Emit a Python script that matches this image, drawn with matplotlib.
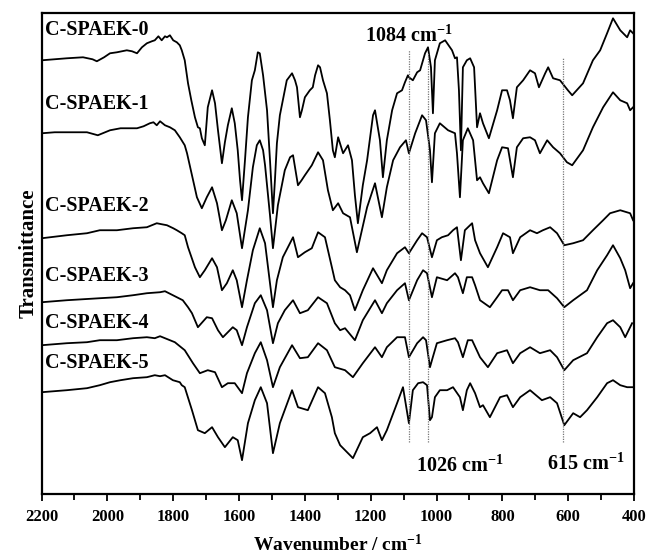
import numpy as np
import matplotlib
matplotlib.use("Agg")
import matplotlib.pyplot as plt

plt.rcParams['font.family'] = ['Liberation Serif', 'DejaVu Serif']
plt.rcParams['font.weight'] = 'bold'
plt.rcParams['mathtext.fontset'] = 'custom'
plt.rcParams['mathtext.rm'] = 'Liberation Serif:bold'
plt.rcParams['mathtext.it'] = 'Liberation Serif:bold'
plt.rcParams['mathtext.bf'] = 'Liberation Serif:bold'

# (wavenumber / cm-1, transmittance in arbitrary offset units)
spaek0 = [(2199, 434), (2160, 435), (2123, 436), (2074, 437), (2045, 435), (2032, 433), (2010, 437),
          (1992, 441), (1971, 442), (1941, 444), (1925, 443), (1910, 441), (1895, 447), (1880, 451),
          (1865, 453), (1856, 454), (1845, 458), (1835, 454), (1825, 458), (1819, 457), (1810, 459),
          (1800, 454), (1789, 452), (1780, 449), (1774, 444), (1765, 434), (1755, 411), (1745, 394),
          (1734, 377), (1725, 367), (1719, 366), (1713, 356), (1704, 349), (1695, 387), (1682, 404),
          (1673, 391), (1664, 364), (1652, 331), (1643, 352), (1634, 369), (1622, 386), (1613, 371),
          (1604, 344), (1597, 314), (1591, 294), (1582, 334), (1573, 377), (1561, 414), (1552, 424),
          (1543, 442), (1537, 441), (1527, 419), (1515, 384), (1506, 334), (1497, 281), (1491, 314),
          (1485, 351), (1476, 379), (1467, 394), (1455, 414), (1439, 421), (1430, 414), (1424, 407),
          (1415, 377), (1409, 384), (1400, 397), (1385, 404), (1376, 407), (1369, 419), (1360, 429),
          (1354, 427), (1345, 414), (1333, 401), (1324, 374), (1315, 344), (1309, 337), (1299, 357),
          (1284, 341), (1269, 349), (1257, 334), (1248, 299), (1239, 271), (1224, 309), (1211, 334),
          (1193, 379), (1187, 384), (1172, 354), (1163, 317), (1151, 354), (1135, 384), (1120, 401),
          (1105, 404), (1096, 412), (1087, 419), (1084, 417), (1072, 414), (1059, 422), (1050, 424),
          (1035, 441), (1026, 447), (1017, 427), (1011, 381), (1005, 434), (990, 451), (974, 454),
          (953, 444), (944, 436), (938, 437), (932, 404), (926, 344), (920, 427), (908, 434),
          (898, 436), (886, 427), (877, 367), (868, 381), (859, 371), (841, 356), (816, 384),
          (801, 404), (786, 404), (777, 394), (768, 376), (756, 407), (737, 414), (716, 424),
          (701, 421), (689, 407), (670, 421), (661, 427), (646, 416), (625, 414), (601, 404),
          (588, 399), (555, 411), (525, 434), (503, 444), (482, 461), (464, 476), (442, 464),
          (421, 457), (412, 464), (403, 461)]

spaek1 = [(2199, 361), (2160, 362), (2123, 362), (2062, 362), (2029, 359), (1992, 364), (1960, 366),
          (1941, 366), (1910, 366), (1890, 368), (1871, 371), (1860, 372), (1850, 369), (1840, 373),
          (1825, 369), (1810, 367), (1795, 364), (1780, 357), (1765, 349), (1758, 341), (1743, 319),
          (1728, 297), (1713, 286), (1698, 297), (1682, 307), (1667, 291), (1652, 264), (1640, 274),
          (1622, 294), (1607, 281), (1591, 246), (1573, 284), (1558, 327), (1546, 349), (1537, 354),
          (1527, 344), (1521, 329), (1506, 279), (1497, 246), (1482, 289), (1461, 324), (1445, 337),
          (1436, 339), (1421, 309), (1410, 314), (1400, 319), (1379, 329), (1360, 342), (1345, 334),
          (1330, 304), (1315, 284), (1299, 291), (1284, 281), (1263, 277), (1242, 242), (1211, 287),
          (1187, 311), (1166, 277), (1151, 307), (1132, 334), (1111, 347), (1093, 354), (1084, 341),
          (1065, 361), (1044, 379), (1032, 374), (1020, 344), (1014, 312), (1005, 361), (990, 371),
          (965, 364), (944, 361), (938, 341), (929, 297), (920, 354), (905, 366), (889, 354),
          (877, 314), (868, 317), (859, 311), (841, 301), (816, 334), (801, 347), (783, 346),
          (768, 317), (756, 347), (737, 356), (716, 357), (701, 354), (686, 341), (664, 354),
          (646, 347), (625, 341), (604, 332), (588, 329), (555, 344), (525, 367), (494, 387),
          (464, 402), (442, 394), (421, 391), (412, 384), (403, 387)]

spaek2 = [(2199, 256), (2123, 259), (2062, 261), (2023, 264), (1971, 264), (1922, 266), (1880, 267),
          (1850, 271), (1835, 270), (1819, 269), (1800, 266), (1789, 264), (1774, 261), (1765, 259),
          (1755, 247), (1734, 227), (1719, 217), (1704, 224), (1682, 236), (1667, 227), (1652, 204),
          (1637, 211), (1619, 224), (1607, 214), (1591, 187), (1576, 214), (1558, 244), (1537, 266),
          (1521, 251), (1506, 211), (1497, 187), (1485, 214), (1467, 237), (1436, 257), (1421, 237),
          (1400, 242), (1379, 246), (1360, 262), (1339, 257), (1318, 227), (1309, 214), (1293, 207),
          (1278, 204), (1263, 199), (1248, 184), (1224, 204), (1193, 226), (1166, 211), (1151, 224),
          (1120, 241), (1096, 247), (1084, 241), (1059, 254), (1044, 261), (1029, 257), (1014, 237),
          (999, 254), (984, 257), (965, 259), (950, 264), (938, 267), (926, 234), (914, 264),
          (892, 271), (883, 254), (868, 241), (844, 227), (816, 247), (798, 261), (777, 257),
          (768, 241), (746, 257), (716, 264), (695, 261), (677, 264), (655, 267), (634, 261),
          (612, 249), (585, 251), (555, 254), (525, 264), (494, 274), (473, 281), (442, 284),
          (412, 281), (403, 274)]

spaek3 = [(2199, 192), (2123, 194), (2023, 196), (1971, 197), (1922, 199), (1880, 201), (1840, 202),
          (1825, 203), (1801, 199), (1789, 197), (1771, 194), (1755, 187), (1743, 181), (1725, 167),
          (1698, 177), (1682, 176), (1664, 164), (1649, 157), (1619, 167), (1607, 164), (1591, 149),
          (1576, 167), (1552, 191), (1534, 199), (1515, 184), (1497, 151), (1482, 171), (1461, 184),
          (1436, 194), (1415, 181), (1391, 184), (1360, 197), (1333, 191), (1309, 171), (1293, 164),
          (1278, 166), (1248, 154), (1224, 174), (1187, 194), (1166, 181), (1151, 191), (1120, 204),
          (1096, 211), (1084, 194), (1059, 214), (1041, 224), (1029, 221), (1014, 197), (999, 217),
          (968, 214), (944, 221), (935, 217), (920, 201), (908, 217), (892, 217), (883, 209),
          (868, 194), (838, 187), (816, 197), (801, 204), (783, 204), (768, 194), (746, 204),
          (716, 207), (686, 204), (661, 204), (634, 196), (612, 187), (585, 194), (543, 204),
          (512, 224), (482, 239), (464, 249), (442, 236), (427, 224), (412, 206), (403, 211)]

spaek4 = [(2199, 149), (2123, 151), (2062, 152), (2023, 154), (1971, 154), (1922, 156), (1880, 157),
          (1856, 156), (1840, 158), (1810, 154), (1795, 152), (1765, 144), (1740, 131), (1719, 121),
          (1695, 124), (1673, 122), (1652, 107), (1634, 111), (1613, 111), (1591, 101), (1576, 121),
          (1552, 141), (1534, 152), (1515, 134), (1497, 107), (1476, 127), (1439, 149), (1415, 136),
          (1391, 137), (1360, 151), (1333, 144), (1309, 127), (1278, 124), (1254, 117), (1224, 131),
          (1187, 147), (1166, 137), (1151, 147), (1120, 157), (1096, 157), (1084, 137), (1059, 151),
          (1041, 157), (1032, 154), (1020, 127), (1014, 134), (999, 151), (968, 154), (944, 156),
          (935, 152), (920, 137), (905, 154), (892, 154), (868, 137), (844, 127), (816, 141),
          (786, 144), (768, 131), (746, 141), (716, 147), (686, 141), (655, 144), (634, 137),
          (612, 124), (585, 134), (543, 141), (512, 157), (482, 171), (464, 174), (442, 167),
          (427, 157), (406, 171)]

spaek5 = [(2199, 102), (2123, 104), (2062, 106), (2023, 109), (1992, 112), (1960, 114), (1922, 116),
          (1880, 117), (1856, 119), (1840, 118), (1825, 119), (1801, 114), (1780, 112), (1774, 109),
          (1765, 107), (1743, 84), (1725, 64), (1704, 61), (1682, 67), (1664, 57), (1643, 47),
          (1619, 57), (1604, 54), (1591, 34), (1573, 71), (1552, 94), (1534, 107), (1515, 91),
          (1497, 41), (1476, 71), (1439, 104), (1421, 87), (1391, 84), (1360, 107), (1339, 101),
          (1318, 77), (1309, 61), (1293, 49), (1254, 36), (1224, 57), (1202, 61), (1181, 67),
          (1166, 54), (1151, 64), (1120, 91), (1102, 107), (1084, 71), (1072, 104), (1056, 111),
          (1041, 112), (1029, 109), (1020, 74), (1014, 77), (1005, 97), (990, 104), (968, 104),
          (950, 107), (929, 97), (920, 84), (908, 104), (898, 111), (883, 101), (868, 87),
          (859, 89), (838, 77), (807, 97), (786, 99), (768, 87), (746, 97), (716, 104),
          (680, 94), (655, 97), (634, 91), (612, 69), (585, 81), (564, 77), (543, 84),
          (512, 97), (482, 111), (464, 114), (442, 109), (421, 107), (403, 107)]

samples = ['C-SPAEK-0', 'C-SPAEK-1', 'C-SPAEK-2', 'C-SPAEK-3', 'C-SPAEK-4', 'C-SPAEK-5']
label_y = [464, 390, 288, 218, 171, 131]
marked_bands = [1084, 1026, 615]
xticks = [2200, 2000, 1800, 1600, 1400, 1200, 1000, 800, 600, 400]

fig = plt.figure(figsize=(6.49, 5.54), dpi=100)
ax = fig.add_axes([0.064, 0.108, 0.913, 0.868])

for spec in [spaek0, spaek1, spaek2, spaek3, spaek4, spaek5]:
    spec = np.array(spec)
    ax.plot(spec[:, 0], spec[:, 1], color='black', lw=1.3)

for name, y in zip(samples, label_y):
    ax.text(2190, y, name, fontsize=14.5, fontweight='bold', ha='left', va='center')

for band, top in zip(marked_bands, [444, 441, 437]):
    ax.plot([band, band], [52, top], color='#777777', lw=0.9, ls=(0, (1, 1)))

ax.text(1084, 452, r'1084 cm$^{-1}$', fontsize=14.5, ha='center', va='baseline')
ax.text(930, 22, r'1026 cm$^{-1}$', fontsize=14.5, ha='center', va='baseline')
ax.text(547, 24, r'615 cm$^{-1}$', fontsize=14.5, ha='center', va='baseline')

ax.set_xlim(2200, 400)
ax.set_ylim(0, 481)
ax.set_xticks(xticks)
ax.set_xticks(np.arange(2100, 400, -200), minor=True)
ax.tick_params(axis='x', which='major', direction='out', length=5, width=1.3, labelsize=12, pad=6)
ax.tick_params(axis='x', which='minor', direction='out', length=4, width=1.3)
ax.set_yticks([])
for s in ax.spines.values():
    s.set_linewidth(1.6)

ax.set_xlabel(r'Wavenumber / cm$^{-1}$', fontsize=14, fontweight='bold', labelpad=6)
ax.set_ylabel('Transmittance', fontsize=15, fontweight='bold', labelpad=2)

fig.savefig('out.png', dpi=100)
